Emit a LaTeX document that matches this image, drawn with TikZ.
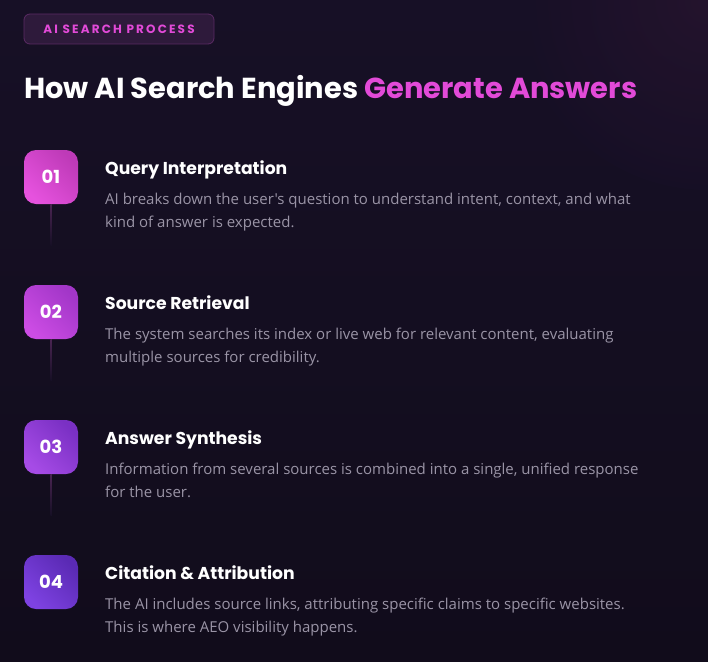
\documentclass[tikz,border=0pt]{standalone}
\usepackage{fontspec}
\setmainfont{Poppins}
\newfontfamily\headfont{Poppins}[BoldFont=* Bold]
\newfontfamily\bodyfont{Open Sans}
\newfontfamily\badgefont{Poppins}[LetterSpace=18,BoldFont=* Bold]
\definecolor{bgtop}{HTML}{171026}
\definecolor{bgbot}{HTML}{110C1B}
\definecolor{glow}{HTML}{27142F}
\definecolor{pinkt}{HTML}{E24AD8}
\definecolor{badgefill}{HTML}{2E1A3B}
\definecolor{badgeline}{HTML}{5A2A63}
\definecolor{bodygray}{HTML}{9A94A6}
\definecolor{linec}{HTML}{4A2452}
\definecolor{aA}{HTML}{E652DE}\definecolor{aB}{HTML}{BE3AB8}
\definecolor{bA}{HTML}{CC4CE4}\definecolor{bB}{HTML}{A236C8}
\definecolor{cA}{HTML}{A64BE6}\definecolor{cB}{HTML}{7A30C4}
\definecolor{dA}{HTML}{7E42E2}\definecolor{dB}{HTML}{5A2AB4}
\tikzset{
  numbox/.style={minimum width=54pt,minimum height=54pt,rounded corners=12pt,inner sep=0pt,
    text=white,font=\headfont\bfseries\fontsize{18}{18}\selectfont},
  stephead/.style={anchor=base west,inner sep=0pt,text=white,font=\headfont\bfseries\fontsize{17.2}{20}\selectfont},
  stepdesc/.style={anchor=base west,inner sep=0pt,text=bodygray,align=left,
    font=\bodyfont\fontsize{15}{23}\selectfont},
}
\begin{document}
\begin{tikzpicture}[x=1pt,y=-1pt]
\useasboundingbox (0,0) rectangle (708,661);
\shade[top color=bgtop,bottom color=bgbot] (0,0) rectangle (708,661);
\begin{scope}
\clip (0,0) rectangle (708,661);
\shade[inner color=glow,outer color=bgtop,opacity=0.8] (708,0) circle (190);
\end{scope}
% badge
\node[draw=badgeline,fill=badgefill,rounded corners=6pt,line width=0.8pt,minimum width=190pt,minimum height=30pt,inner sep=0pt,
  text=pinkt,font=\badgefont\bfseries\fontsize{12}{12}\selectfont] (badge) at (119,29) {AI SEARCH PROCESS};
% title
\node[anchor=base west,inner sep=0pt,font=\headfont\bfseries\fontsize{28.9}{32}\selectfont] (title) at (24,98)
  {\textcolor{white}{How AI Search Engines} \textcolor{pinkt}{Generate Answers}};
% steps
\node[numbox,left color=aA,right color=aB,shading angle=135] (n1) at (51,177) {01};
\node[numbox,left color=bA,right color=bB,shading angle=135] (n2) at (51,312) {02};
\node[numbox,left color=cA,right color=cB,shading angle=135] (n3) at (51,447) {03};
\node[numbox,left color=dA,right color=dB,shading angle=135] (n4) at (51,582) {04};
\coordinate (e1) at (51,245);
\coordinate (e2) at (51,380);
\coordinate (e3) at (51,515);
\shade[top color=linec,bottom color=bgtop] ([xshift=-0.75pt]n1.south) rectangle ([xshift=0.75pt]e1);
\shade[top color=linec,bottom color=bgtop] ([xshift=-0.75pt]n2.south) rectangle ([xshift=0.75pt]e2);
\shade[top color=linec,bottom color=bgtop] ([xshift=-0.75pt]n3.south) rectangle ([xshift=0.75pt]e3);
\node[stephead] (h1) at (105,174) {Query Interpretation};
\node[stepdesc] (d1) at (105,227) {AI breaks down the user's question to understand intent, context, and what\\kind of answer is expected.};
\node[stephead] (h2) at (105,309) {Source Retrieval};
\node[stepdesc] (d2) at (105,362) {The system searches its index or live web for relevant content, evaluating\\multiple sources for credibility.};
\node[stephead] (h3) at (105,444) {Answer Synthesis};
\node[stepdesc] (d3) at (105,497) {Information from several sources is combined into a single, unified response\\for the user.};
\node[stephead] (h4) at (105,579) {Citation \& Attribution};
\node[stepdesc] (d4) at (105,632) {The AI includes source links, attributing specific claims to specific websites.\\This is where AEO visibility happens.};
\end{tikzpicture}
\end{document}
